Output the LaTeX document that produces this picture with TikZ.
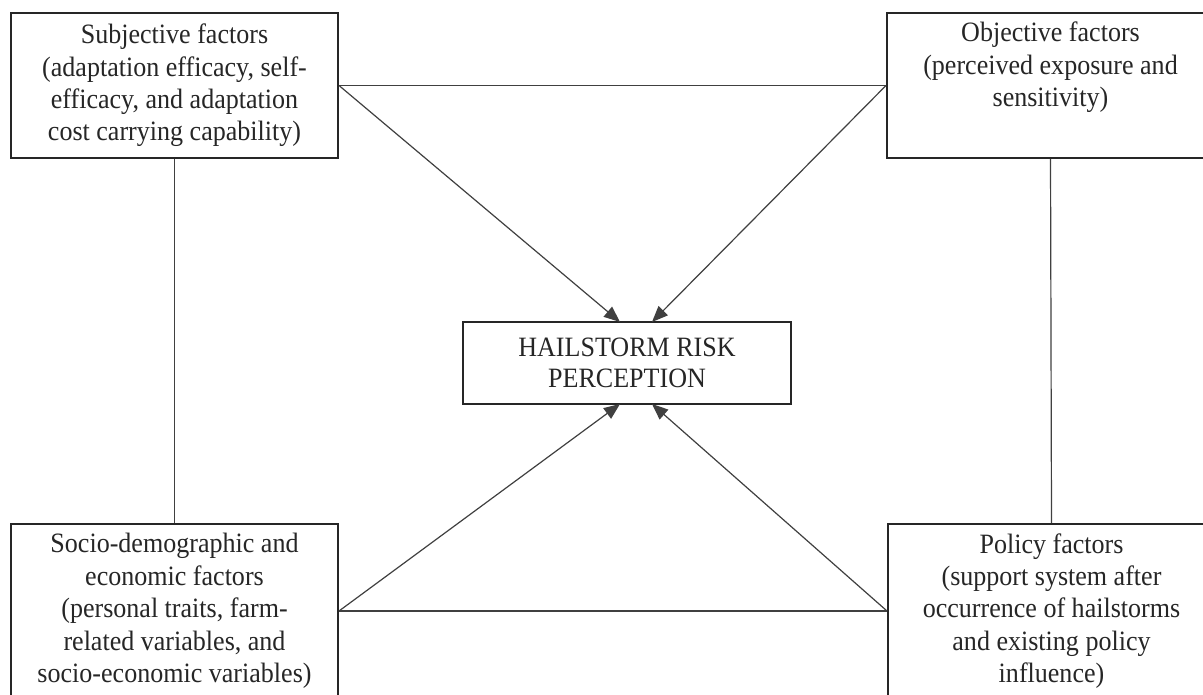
\documentclass[tikz,border=0pt]{standalone}
\usepackage{fontspec}
\setmainfont{Liberation Serif}[FakeStretch=0.93]
\usetikzlibrary{arrows.meta}
\begin{document}
\begin{tikzpicture}[x=0.5pt,y=-0.5pt,
  box/.style={draw=black!85, line width=1pt, fill=white, align=center, inner sep=0pt,
    font=\fontsize{14pt}{16.2pt}\selectfont, text=black!85},
  link/.style={draw=black!75, line width=0.6pt},
  arr/.style={link, -{Triangle[length=8pt,width=6.5pt]}}]
\useasboundingbox (0,0) rectangle (1203,695);
\fill[white] (0,0) rectangle (1203,695);
\node[box, minimum width=163.5pt, minimum height=72.5pt] (tl) at (174.5,85.5)
  {Subjective factors\\(adaptation efficacy, self-\\efficacy, and adaptation\\cost carrying capability)};
\node[box, minimum width=163.5pt, minimum height=72.5pt] (tr) at (1050.5,85.5)
  {Objective factors\\(perceived exposure and\\sensitivity)\\\strut};
\node[box, minimum width=163.5pt, minimum height=87pt] (bl) at (174.5,611)
  {Socio-demographic and\\economic factors\\(personal traits, farm-\\related variables, and\\socio-economic variables)};
\node[box, minimum width=163.5pt, minimum height=87pt] (br) at (1051.5,611)
  {Policy factors\\(support system after\\occurrence of hailstorms\\and existing policy\\influence)};
\node[box, minimum width=164pt, minimum height=41pt, font=\fontsize{14pt}{15.5pt}\selectfont] (c) at (627,363)
  {HAILSTORM RISK\\PERCEPTION};
\coordinate (cn1) at (620,322);
\coordinate (cn2) at (652,322);
\coordinate (cs1) at (620,404);
\coordinate (cs2) at (652,404);
\draw[link] (tl.east) -- (tr.west);
\draw[link] (bl.east) -- (br.west);
\draw[link] (tl.south) -- (bl.north);
\draw[link] (tr.south) -- (br.north);
\draw[arr] (tl.east) -- (cn1);
\draw[arr] (tr.west) -- (cn2);
\draw[arr] (bl.east) -- (cs1);
\draw[arr] (br.west) -- (cs2);
\end{tikzpicture}
\end{document}
